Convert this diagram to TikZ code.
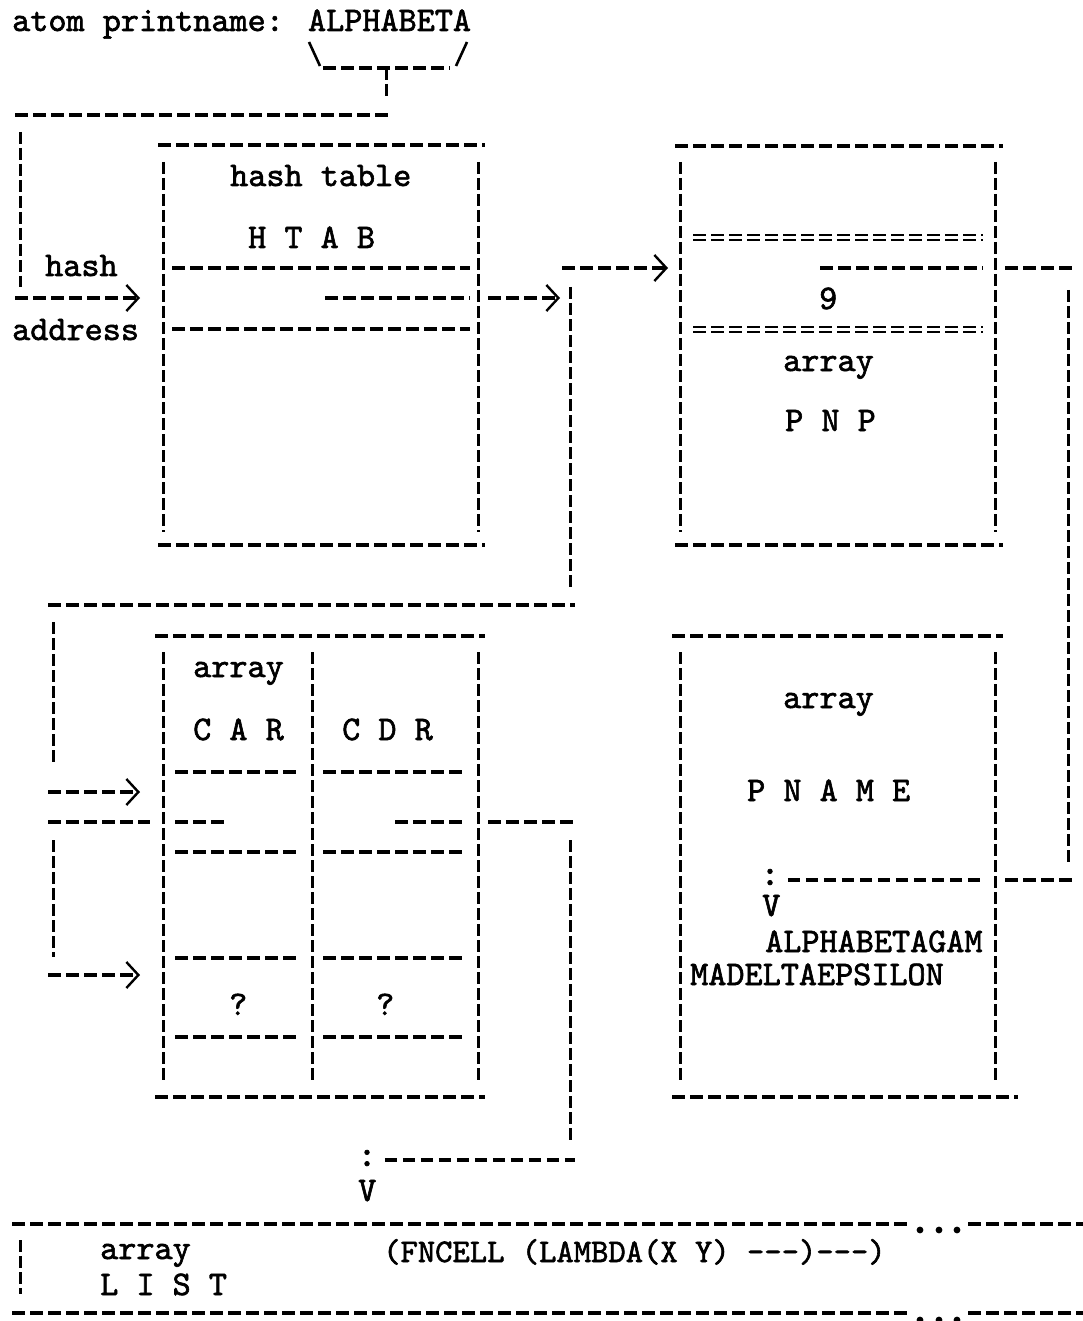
\documentclass[tikz,border=0pt]{standalone}
\usepackage{fontspec}
\newfontfamily\typer{lmmono10-regular.otf}[RawFeature={embolden=1.8}]
\usetikzlibrary{arrows.meta}

\tikzset{
	hrule/.style={line width=3.3pt, dash pattern=on 12.5pt off 5.5pt},
	vrule/.style={line width=3pt, dash pattern=on 12pt off 4pt},
	eqrule/.style={line width=2pt, double, double distance=3pt, dash pattern=on 12.5pt off 5.5pt},
	ptr/.style={hrule, -{Straight Barb[length=12pt,width=26pt,line width=2.4pt]}},
	lbl/.style={font=\typer\fontsize{34.5}{40}\selectfont, inner sep=0pt, anchor=base west},
	colonlbl/.style={font=\typer\fontsize{37}{40}\selectfont, inner sep=0pt},
}

\begin{document}
\begin{tikzpicture}[x=1pt, y=-1pt]
		\useasboundingbox (0,0) rectangle (1083,1321);

		% atom and its hash
		\node[lbl] (title) at (12,31) {atom printname: ALPHABETA};
		\coordinate (brkl) at (309,42);
		\coordinate (brkr) at (467,42);
		\coordinate (brkm) at (386,68);
		\draw[line width=2.6pt] (brkl) -- (320,66);
		\draw[line width=2.6pt] (brkr) -- (456,66);
		\draw[hrule] (323,68) -- (450,68);
		\draw[vrule] (brkm) -- (386,97);
		\draw[hrule] (15,115) -- (392,115);
		\draw[vrule] (20,132) -- (20,287);
		\node[lbl] (hashlbl) at (45,276) {hash};
		\node[lbl] (addrlbl) at (12,340) {address};
		\coordinate (hashin) at (15,298);
		\coordinate (htabin) at (140,298);
		\draw[ptr] (hashin) -- (htabin);

		% hash table
		\draw[hrule] (158,145) -- (485,145);
		\draw[hrule] (158,545) -- (485,545);
		\draw[vrule] (163,162) -- (163,532);
		\draw[vrule] (478,162) -- (478,532);
		\node[lbl] (htabname) at (230,186) {hash table};
		\node[lbl] (htabsym) at (248,248) {H T A B};
		\draw[hrule] (172,268) -- (470,268);
		\draw[hrule] (325,298) -- (470,298);
		\draw[hrule] (172,329) -- (470,329);

		% slot points to the atom
		\coordinate (slot) at (488,298);
		\coordinate (atom) at (560,298);
		\draw[ptr] (slot) -- (atom);
		\draw[vrule] (570,287) -- (570,590);
		\coordinate (pnpout) at (562,268);
		\coordinate (pnpin) at (668,268);
		\draw[ptr] (pnpout) -- (pnpin);

		% property list box
		\draw[hrule] (675,146) -- (1003,146);
		\draw[hrule] (675,545) -- (1003,545);
		\draw[vrule] (680,162) -- (680,532);
		\draw[vrule] (995,162) -- (995,532);
		\draw[eqrule] (693,238) -- (983,238);
		\draw[hrule] (820,268) -- (983,268);
		\node[lbl] (nine) at (819,309) {9};
		\draw[eqrule] (693,329) -- (983,329);
		\node[lbl] (pnparr) at (783,371) {array};
		\node[lbl] (pnpsym) at (785,431) {P N P};
		\draw[hrule] (1005,268) -- (1075,268);
		\draw[vrule] (1068,290) -- (1068,862);
		\draw[hrule] (1005,880) -- (1075,880);

		% cell of the atom
		\draw[hrule] (48,605) -- (575,605);
		\draw[vrule] (53,622) -- (53,762);
		\coordinate (carout) at (48,792);
		\coordinate (carin) at (140,792);
		\draw[ptr] (carout) -- (carin);
		\draw[hrule] (48,822) -- (150,822);
		\draw[vrule] (53,840) -- (53,957);
		\coordinate (nextout) at (48,975);
		\coordinate (nextin) at (140,975);
		\draw[ptr] (nextout) -- (nextin);

		\draw[hrule] (155,636) -- (485,636);
		\draw[hrule] (155,1097) -- (485,1097);
		\draw[vrule] (163,652) -- (163,1082);
		\draw[vrule] (312,652) -- (312,1082);
		\draw[vrule] (478,652) -- (478,1082);
		\node[lbl] (cellarr) at (193,677) {array};
		\node[lbl] (carsym) at (193,740) {C A R};
		\node[lbl] (cdrsym) at (342,740) {C D R};
		\draw[hrule] (175,772) -- (300,772);
		\draw[hrule] (323,772) -- (465,772);
		\draw[hrule] (175,822) -- (225,822);
		\draw[hrule] (395,822) -- (465,822);
		\draw[hrule] (175,852) -- (300,852);
		\draw[hrule] (323,852) -- (465,852);
		\draw[hrule] (175,958) -- (300,958);
		\draw[hrule] (323,958) -- (465,958);
		\node[lbl] (carq) at (229,1015) {?};
		\node[lbl] (cdrq) at (376,1015) {?};
		\draw[hrule] (175,1037) -- (300,1037);
		\draw[hrule] (323,1037) -- (465,1037);

		% cdr goes down to the list
		\draw[hrule] (488,822) -- (575,822);
		\draw[vrule] (570,840) -- (570,1142);
		\node[colonlbl] (listcolon) at (367,1158) {:};
		\draw[hrule] (listcolon.east) ++(8,2) -- (575,1160);
		\node[lbl] (listv) at (358,1201) {V};

		% print name
		\draw[hrule] (672,636) -- (1003,636);
		\draw[hrule] (672,1097) -- (1018,1097);
		\draw[vrule] (680,652) -- (680,1082);
		\draw[vrule] (995,652) -- (995,1082);
		\node[lbl] (pnamearr) at (783,708) {array};
		\node[lbl] (pnamesym) at (747,801) {P N A M E};
		\node[colonlbl] (pnamecolon) at (770,877) {:};
		\draw[hrule] (pnamecolon.east) ++(8,3) -- (985,880);
		\node[lbl] (pnamev) at (762,916) {V};
		\node[lbl] (pname1) at (765,952) {ALPHABETAGAM};
		\node[lbl] (pname2) at (690,985) {MADELTAEPSILON};

		% list array
		\draw[hrule] (12,1224) -- (910,1224);
		\draw[hrule] (968,1224) -- (1083,1224);
		\draw[hrule] (12,1313) -- (910,1313);
		\draw[hrule] (968,1313) -- (1083,1313);
		\foreach \x in {920,939,957} {
			\fill (\x,1230) circle (3.4pt);
			\fill (\x,1320) circle (3.4pt);
		}
		\draw[vrule] (20,1240) -- (20,1294);
		\node[lbl] (listarr) at (100,1259) {array};
		\node[lbl] (listsym) at (100,1295) {L I S T};
		\node[lbl, font=\typer\fontsize{33}{40}\selectfont] (listval) at (383,1262)
			{(FNCELL (LAMBDA(X Y) -{}-{}-)-{}-{}-)};
	\end{tikzpicture}
\end{document}
